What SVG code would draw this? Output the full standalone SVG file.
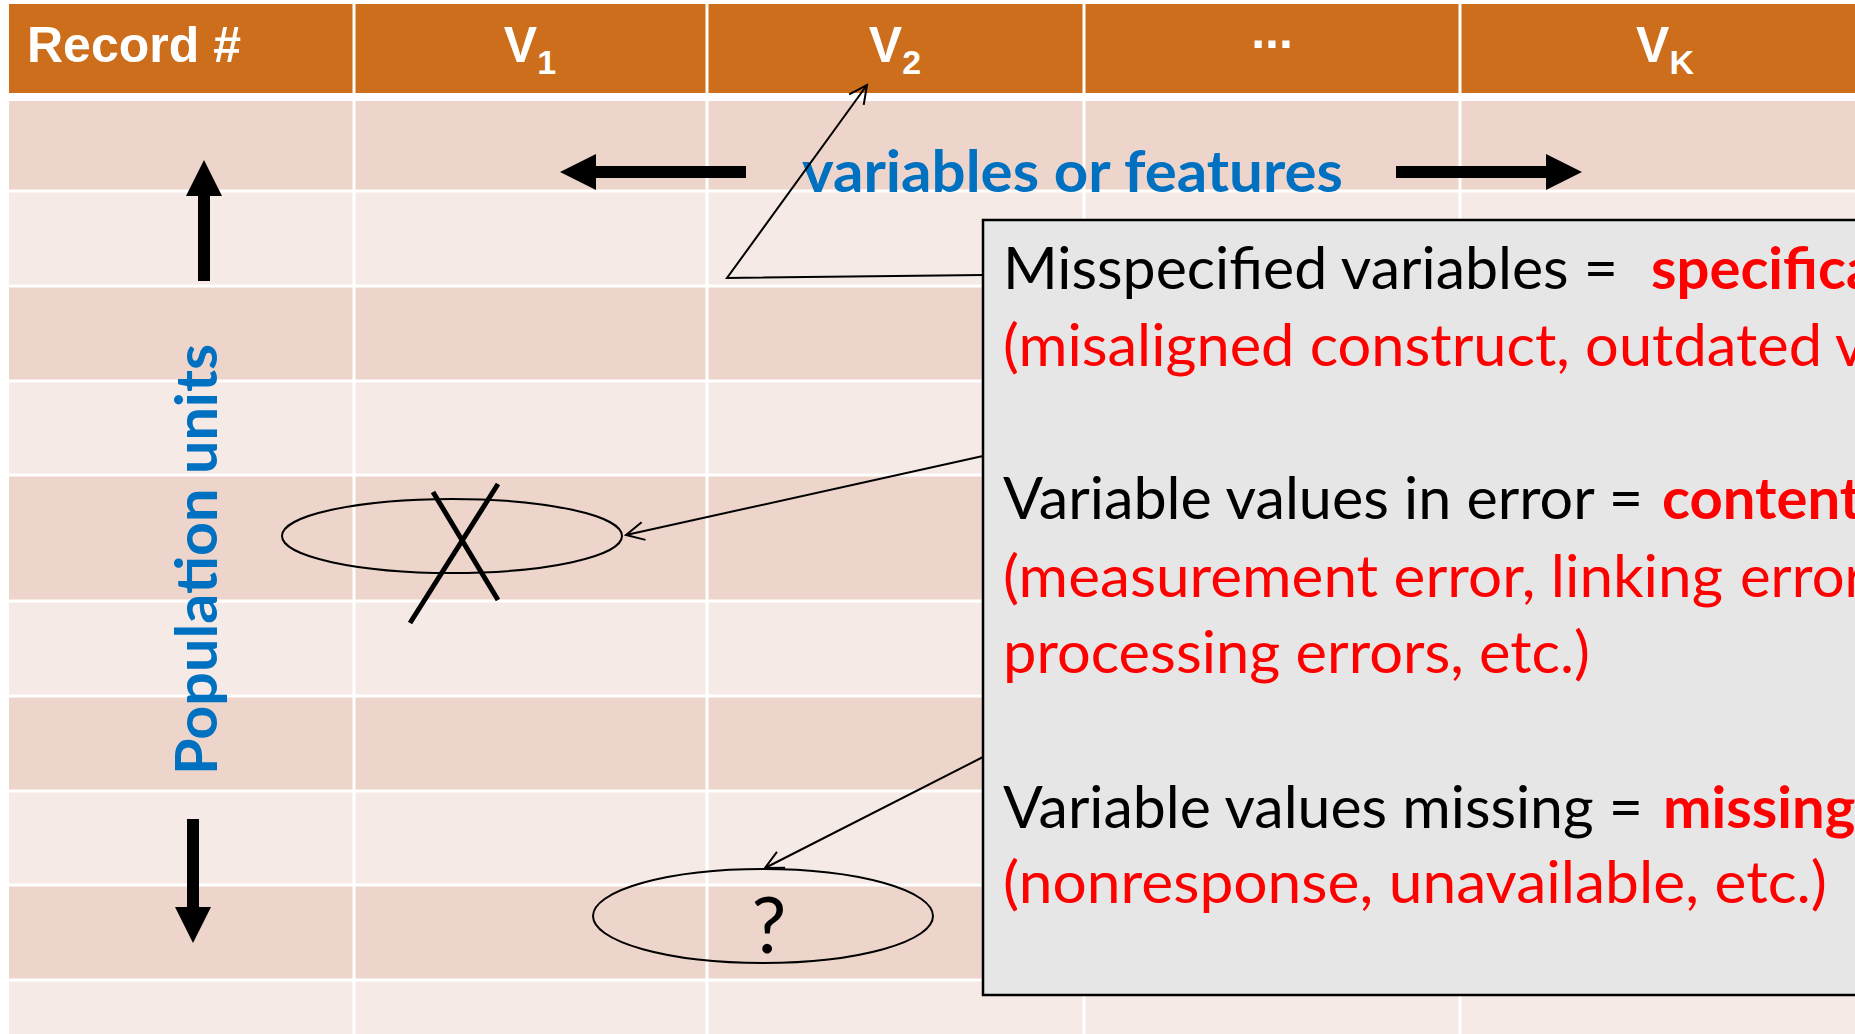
<svg xmlns="http://www.w3.org/2000/svg" width="1855" height="1034" viewBox="0 0 1855 1034">
  <style>
    .hdr { fill: #CD6E1C; }
    .dark { fill: #EDD5CB; }
    .light { fill: #F5EAE6; }
    .grid { stroke: #FFFFFF; stroke-width: 3; }
    .htxt { font-family: "Liberation Sans", Arial, sans-serif; font-weight: bold; font-size: 50px; fill: #FFFFFF; }
    .blue { font-family: Lato, "Open Sans", sans-serif; font-weight: bold; font-size: 58px; fill: #0070C0; }
    .note { font-family: Lato, "Open Sans", sans-serif; font-size: 58px; fill: #000000; }
    .red { fill: #FF0000; }
    .bold { font-weight: bold; }
    .ring { fill: none; stroke: #000000; stroke-width: 2; }
    .conn { fill: none; stroke: #000000; stroke-width: 2; }
    .block { fill: #000000; }
  </style>
  <defs>
    <marker id="open-arrow" markerUnits="userSpaceOnUse" markerWidth="24" markerHeight="24" viewBox="0 0 24 24" refX="21" refY="12" orient="auto">
      <path d="M3,3 L21,12 L3,21" fill="none" stroke="#000000" stroke-width="2"/>
    </marker>
  </defs>

  <rect width="1855" height="1034" fill="#FFFFFF"/>

  <!-- table: header band and alternating body rows -->
  <g id="table">
    <rect class="hdr" x="9" y="4" width="1870" height="89"/>
    <rect class="dark" x="9" y="101" width="1870" height="90"/>
    <rect class="light" x="9" y="191" width="1870" height="95"/>
    <rect class="dark" x="9" y="286" width="1870" height="95"/>
    <rect class="light" x="9" y="381" width="1870" height="94"/>
    <rect class="dark" x="9" y="475" width="1870" height="126"/>
    <rect class="light" x="9" y="601" width="1870" height="95"/>
    <rect class="dark" x="9" y="696" width="1870" height="95"/>
    <rect class="light" x="9" y="791" width="1870" height="94"/>
    <rect class="dark" x="9" y="885" width="1870" height="95"/>
    <rect class="light" x="9" y="980" width="1870" height="60"/>
    <g class="grid">
      <line x1="9" y1="191" x2="1880" y2="191"/>
      <line x1="9" y1="286" x2="1880" y2="286"/>
      <line x1="9" y1="381" x2="1880" y2="381"/>
      <line x1="9" y1="475" x2="1880" y2="475"/>
      <line x1="9" y1="601" x2="1880" y2="601"/>
      <line x1="9" y1="696" x2="1880" y2="696"/>
      <line x1="9" y1="791" x2="1880" y2="791"/>
      <line x1="9" y1="885" x2="1880" y2="885"/>
      <line x1="9" y1="980" x2="1880" y2="980"/>
      <line x1="354" y1="0" x2="354" y2="1034"/>
      <line x1="707" y1="0" x2="707" y2="1034"/>
      <line x1="1084" y1="0" x2="1084" y2="1034"/>
      <line x1="1460" y1="0" x2="1460" y2="1034"/>
    </g>
  </g>

  <!-- column headings -->
  <g id="header-labels">
    <text class="htxt" x="27" y="62">Record #</text>
    <text class="htxt" x="530" y="62" text-anchor="middle">V<tspan font-size="34" dy="12">1</tspan></text>
    <text class="htxt" x="895" y="62" text-anchor="middle">V<tspan font-size="34" dy="12">2</tspan></text>
    <text class="htxt" x="1272" y="48" text-anchor="middle">...</text>
    <text class="htxt" x="1665" y="62" text-anchor="middle">V<tspan font-size="34" dy="12">K</tspan></text>
  </g>

  <!-- direction arrows -->
  <g id="axis-arrows">
    <polygon class="block" points="204,160 222,196 210,196 210,281 198,281 198,196 186,196"/>
    <polygon class="block" points="187,819 199,819 199,907 211,907 193,943 175,907 187,907"/>
    <polygon class="block" points="560,172 596,154 596,166 746,166 746,178 596,178 596,190"/>
    <polygon class="block" points="1396,166 1546,166 1546,154 1582,172 1546,190 1546,178 1396,178"/>
  </g>

  <g id="features-label">
    <text class="blue" x="802" y="192" textLength="541" lengthAdjust="spacingAndGlyphs">variables or features</text>
  </g>

  <g id="units-label">
    <text class="blue" transform="translate(217,775) rotate(-90)" x="0" y="0" textLength="431" lengthAdjust="spacingAndGlyphs">Population units</text>
  </g>

  <!-- marked cells -->
  <g id="erroneous-value">
    <ellipse class="ring" cx="452" cy="536" rx="170" ry="37"/>
    <line x1="433" y1="492" x2="498" y2="600" stroke="#000000" stroke-width="5"/>
    <line x1="498" y1="484" x2="410" y2="623" stroke="#000000" stroke-width="5"/>
  </g>

  <g id="missing-value">
    <ellipse class="ring" cx="763" cy="916" rx="170" ry="47"/>
    <text x="769" y="953" text-anchor="middle" font-family="Lato, 'Open Sans', sans-serif" font-size="78" fill="#000000">?</text>
  </g>

  <!-- explanation box -->
  <g id="callout">
    <rect x="983" y="220" width="900" height="775" fill="#E6E6E6" stroke="#000000" stroke-width="2.5"/>
    <text class="note" x="1003" y="289" textLength="615" lengthAdjust="spacingAndGlyphs">Misspecified variables =</text>
    <text class="note red bold" x="1651" y="289">specifica</text>
    <text class="note red" x="1003" y="366" textLength="819" lengthAdjust="spacingAndGlyphs">(misaligned construct, outdated</text>
    <text class="note red" x="1835" y="366">v</text>
    <text class="note" x="1003" y="519" textLength="640" lengthAdjust="spacingAndGlyphs">Variable values in error =</text>
    <text class="note red bold" x="1662" y="519">content</text>
    <text class="note red" x="1003" y="597" textLength="720" lengthAdjust="spacingAndGlyphs">(measurement error, linking</text>
    <text class="note red" x="1740" y="597">error</text>
    <text class="note red" x="1003" y="673" textLength="587" lengthAdjust="spacingAndGlyphs">processing errors, etc.)</text>
    <text class="note" x="1003" y="828" textLength="640" lengthAdjust="spacingAndGlyphs">Variable values missing =</text>
    <text class="note red bold" x="1663" y="828">missing</text>
    <text class="note red" x="1003" y="903" textLength="824" lengthAdjust="spacingAndGlyphs">(nonresponse, unavailable, etc.)</text>
  </g>

  <!-- pointers from the box -->
  <g id="connectors">
    <polyline class="conn" points="983,275 727,278 867,85" marker-end="url(#open-arrow)"/>
    <line class="conn" x1="983" y1="456" x2="626" y2="535" marker-end="url(#open-arrow)"/>
    <line class="conn" x1="983" y1="757" x2="765" y2="868" marker-end="url(#open-arrow)"/>
  </g>
</svg>
